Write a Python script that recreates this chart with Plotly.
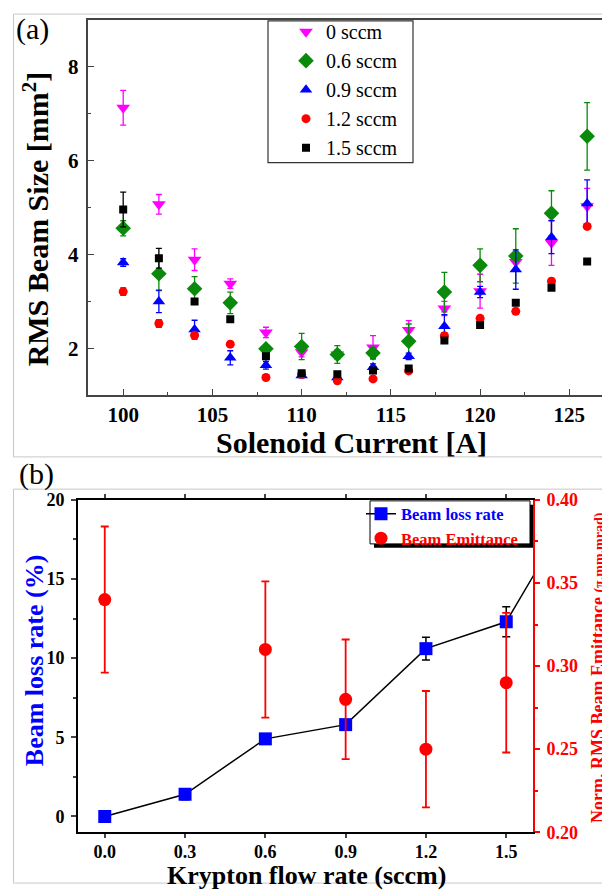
import plotly.graph_objects as go

# ---------------- data: panel (a) ----------------
currents = [100, 102, 104, 106, 108, 110, 112, 114, 116, 118, 120, 122, 124, 126]
size_0 = [7.13, 5.07, 3.89, 3.38, 2.34, 1.92, 1.87, 2.02, 2.39, 2.85, 3.22, 3.84, 4.25, 5.03]
err_0 = [0.37, 0.21, 0.23, 0.10, 0.11, 0.10, 0.10, 0.25, 0.20, 0.15, 0.36, 0.17, 0.48, 0.38]
size_06 = [4.56, 3.59, 3.27, 2.97, 1.99, 2.04, 1.87, 1.90, 2.15, 3.20, 3.77, 3.97, 4.88, 6.52]
err_06 = [0.16, 0.36, 0.26, 0.23, 0.05, 0.28, 0.19, 0.12, 0.37, 0.42, 0.35, 0.58, 0.48, 0.72]
size_09 = [3.83, 3.00, 2.40, 1.80, 1.64, 1.42, 1.38, 1.60, 1.83, 2.47, 3.20, 3.68, 4.37, 5.09]
err_09 = [0.08, 0.24, 0.20, 0.15, 0.08, 0.05, 0.05, 0.07, 0.07, 0.25, 0.12, 0.42, 0.35, 0.50]
size_12 = [3.21, 2.53, 2.28, 2.09, 1.38, 1.45, 1.31, 1.35, 1.52, 2.27, 2.64, 2.79, 3.43, 4.60]
err_12 = [0.08, 0.08, 0.05, 0.05, 0.05, 0.05, 0.04, 0.04, 0.05, 0.06, 0.06, 0.06, 0.06, 0.06]
size_15 = [4.96, 3.92, 3.00, 2.62, 1.83, 1.47, 1.45, 1.53, 1.57, 2.17, 2.50, 2.97, 3.29, 3.85]
err_15 = [0.37, 0.21, 0.05, 0.05, 0.05, 0.05, 0.05, 0.05, 0.05, 0.05, 0.05, 0.05, 0.05, 0.05]
series_names = ["0 sccm", "0.6 sccm", "0.9 sccm", "1.2 sccm", "1.5 sccm"]

# ---------------- data: panel (b) ----------------
flow = [0.0, 0.3, 0.6, 0.9, 1.2, 1.5, 1.8]
loss_rate = [0.0, 1.4, 4.9, 5.8, 10.6, 12.3, 20.9]
loss_err = [0.0, 0.35, 0.2, 0.3, 0.72, 0.95, 0.0]
flow_emit = [0.0, 0.6, 0.9, 1.2, 1.5]
emittance = [0.34, 0.31, 0.28, 0.25, 0.29]
emit_err = [0.044, 0.041, 0.036, 0.035, 0.042]

# The page body has an 8px default margin: the figure is sized to fill the
# remaining window so that page coordinates map 1:1 to the reference.
OFF = 8
W, H = 610 - OFF, 896 - OFF
def px(x):
    return (x - OFF) / W
def py(y):
    return 1 - (y - OFF) / H

SERIF = "Liberation Serif"
fig = go.Figure()

styles = [
    ("#FF00FF", "triangle-down", 12),
    ("#0A8A0A", "diamond", 12),
    ("#0000FF", "triangle-up", 11),
    ("#FF0000", "circle", 9),
    ("#000000", "square", 8),
]
a_series = [(size_0, err_0), (size_06, err_06), (size_09, err_09), (size_12, err_12), (size_15, err_15)]
for (vals, errs), name, (col, sym, ms) in zip(a_series, series_names, styles):
    fig.add_trace(go.Scatter(
        x=currents, y=vals, mode="markers", name=name,
        marker=dict(color=col, symbol=sym, size=ms, line=dict(width=0)),
        error_y=dict(type="data", array=errs, visible=True, color=col, thickness=1.3, width=3),
        xaxis="x", yaxis="y", legend="legend",
    ))

# panel (b)
fig.add_trace(go.Scatter(
    x=flow, y=loss_rate, mode="lines+markers",
    name="<span style='color:#0000FF'>Beam loss rate</span>",
    line=dict(color="black", width=1.5),
    marker=dict(color="#0000FF", symbol="square", size=13),
    error_y=dict(type="data", array=loss_err, visible=True, color="black", thickness=1.5, width=4),
    xaxis="x2", yaxis="y2", legend="legend2",
))
fig.add_trace(go.Scatter(
    x=flow_emit, y=emittance, mode="markers",
    name="<span style='color:#FF0000'>Beam Emittance</span>",
    marker=dict(color="#FF0000", symbol="circle", size=13),
    error_y=dict(type="data", array=emit_err, visible=True, color="#FF0000", thickness=1.8, width=4),
    xaxis="x2", yaxis="y3", legend="legend2",
))

tick_a = dict(family=SERIF, size=21, color="black", weight="bold")
tick_b = dict(family=SERIF, size=18, color="black", weight="bold")

fig.update_layout(
    width=W, height=H,
    margin=dict(l=0, r=0, t=0, b=0),
    paper_bgcolor="white", plot_bgcolor="rgba(0,0,0,0)",
    font=dict(family=SERIF, color="black"),
    xaxis=dict(domain=[px(87.5), px(605)], range=[98, 127], anchor="y",
               tick0=100, dtick=5, ticks="inside", ticklen=7, tickwidth=1.3, tickcolor="#444",
               minor=dict(ticks="inside", ticklen=4, dtick=2.5, tickcolor="#444"),
               showline=True, linecolor="#444", linewidth=1.5, mirror=True,
               showgrid=False, zeroline=False, tickfont=tick_a, ticklabelstandoff=0),
    yaxis=dict(domain=[py(394), py(10)], range=[1, 9], anchor="x",
               tick0=2, dtick=2, ticks="inside", ticklen=7, tickwidth=1.3, tickcolor="#444",
               minor=dict(ticks="inside", ticklen=4, dtick=1, tickcolor="#444"),
               showline=True, linecolor="#444", linewidth=1.5, mirror=True,
               showgrid=False, zeroline=False, tickfont=tick_a, ticklabelstandoff=3),
    xaxis2=dict(domain=[px(78), px(533)], range=[-0.1, 1.6], anchor="y2",
                tick0=0, dtick=0.3, tickformat=".1f", ticks="outside", ticklen=4, tickwidth=1.5,
                showline=True, linecolor="black", linewidth=2, mirror="ticks",
                showgrid=False, zeroline=False, tickfont=tick_b, ticklabelstandoff=-2),
    yaxis2=dict(domain=[py(841), py(501)], range=[-1, 20], anchor="x2",
                tick0=0, dtick=5, ticks="outside", ticklen=5, tickwidth=1.5,
                minor=dict(ticks="outside", ticklen=3, dtick=2.5),
                showline=True, linecolor="black", linewidth=2,
                showgrid=False, zeroline=False, tickfont=tick_b, ticklabelstandoff=3),
    yaxis3=dict(domain=[py(841), py(501)], range=[0.20, 0.40], anchor="x2", overlaying="y2",
                side="right", tick0=0.2, dtick=0.05, tickformat=".2f",
                ticks="outside", ticklen=5, tickwidth=1.5, tickcolor="#FF0000",
                minor=dict(ticks="outside", ticklen=3, dtick=0.025, tickcolor="#FF0000"),
                showline=True, linecolor="#FF0000", linewidth=2,
                showgrid=False, zeroline=False,
                tickfont=dict(family=SERIF, size=18, color="#FF0000", weight="bold"),
                ticklabelstandoff=3),
    legend=dict(x=px(286), y=py(2), xanchor="left", yanchor="top",
                bgcolor="rgba(0,0,0,0)", borderwidth=0, itemwidth=30,
                font=dict(family=SERIF, size=20, color="black"), tracegroupgap=0),
    legend2=dict(x=px(361), y=py(497.5), xanchor="left", yanchor="top",
                 bgcolor="rgba(0,0,0,0)", borderwidth=0, itemwidth=30,
                 font=dict(family=SERIF, size=16.5, weight="bold"), tracegroupgap=0),
    showlegend=True,
)

shapes = [
    # panel borders
    dict(type="rect", xref="paper", yref="paper", x0=px(13.5), x1=px(607), y0=py(457), y1=py(4),
         line=dict(color="#C8C8C8", width=1), layer="below"),
    dict(type="rect", xref="paper", yref="paper", x0=px(13.5), x1=px(607), y0=py(893), y1=py(490),
         line=dict(color="#C8C8C8", width=1), layer="below"),
    # legend (a) box
    dict(type="rect", xref="paper", yref="paper", x0=px(268), x1=px(413), y0=py(156), y1=py(11),
         line=dict(color="#333", width=1.2), fillcolor="white", layer="below"),
    # legend (b) shadow + box
    dict(type="rect", xref="paper", yref="paper", x0=px(374), x1=px(534), y0=py(550), y1=py(506),
         line=dict(width=0), fillcolor="black", layer="below"),
    dict(type="rect", xref="paper", yref="paper", x0=px(370), x1=px(530), y0=py(546), y1=py(502),
         line=dict(color="black", width=1), fillcolor="white", layer="below"),
]
fig.update_layout(shapes=shapes)

ann = [
    dict(text="(a)", x=px(32), y=py(19), font=dict(family=SERIF, size=30, color="black")),
    dict(text="(b)", x=px(36), y=py(475), font=dict(family=SERIF, size=30, color="black")),
    dict(text="RMS Beam Size [mm<sup>2</sup>]", x=px(36), y=py(214), textangle=-90,
         font=dict(family=SERIF, size=30, color="black", weight="bold")),
    dict(text="Solenoid Current [A]", x=px(351), y=py(442),
         font=dict(family=SERIF, size=30, color="black", weight="bold")),
    dict(text="Beam loss rate (%)", x=px(34), y=py(665), textangle=-90,
         font=dict(family=SERIF, size=26, color="#0000FF", weight="bold")),
    dict(text="Norm. RMS Beam Emittance <span style='font-size:14px'>(π.mm.mrad)</span>",
         x=px(598), y=py(673), textangle=-90,
         font=dict(family=SERIF, size=18, color="#FF0000", weight="bold")),
    dict(text="Krypton flow rate (sccm)", x=px(306), y=py(885),
         font=dict(family=SERIF, size=26, color="black", weight="bold")),
]
for a in ann:
    a.update(xref="paper", yref="paper", showarrow=False, xanchor="center", yanchor="middle")
fig.update_layout(annotations=ann)

fig.write_html("out.html")
